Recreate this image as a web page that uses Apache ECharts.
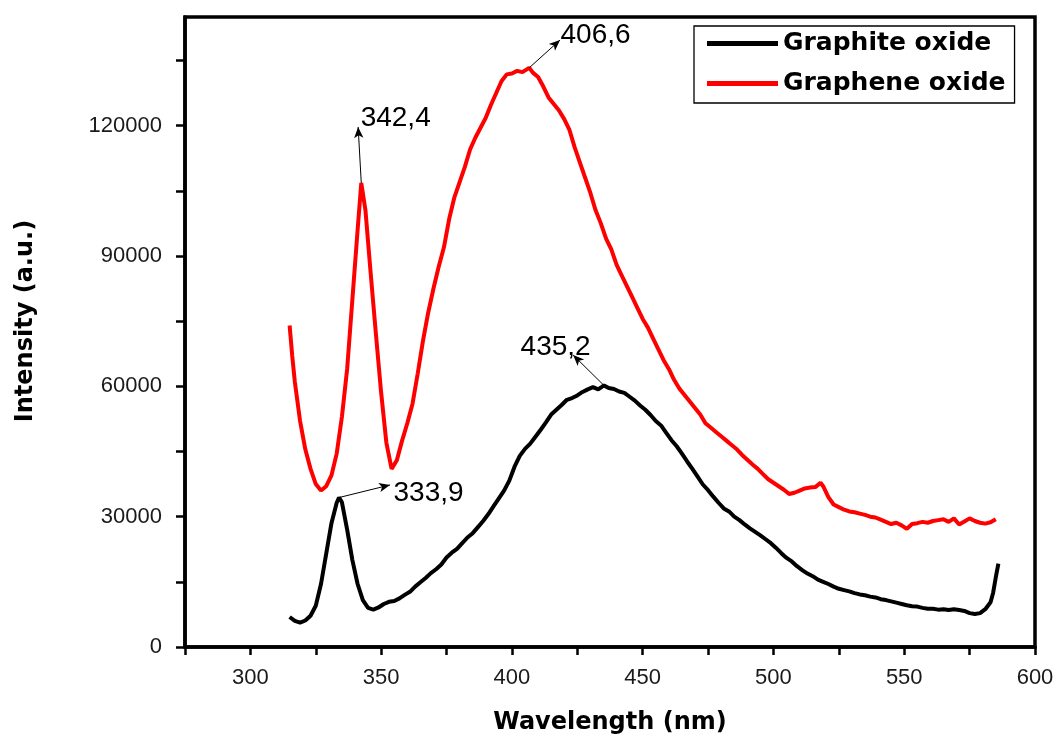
<!DOCTYPE html>
<html>
<head>
<meta charset="utf-8">
<title>Photoluminescence spectra</title>
<script src="https://cdn.jsdelivr.net/npm/echarts@6/dist/echarts.min.js"></script>
<style>
  html, body { margin: 0; padding: 0; background: #fff; }
  #chart { width: 1057px; height: 742px; }
</style>
</head>
<body>
<div id="chart"></div>
<script>
// ---- Spectrum data ----
const graphiteWl = [315,317,319,321,323,325,327,329,331,333,333.9,335,337,339,341,343,345,347,349,351,353,355,357,359,361,363,365,367,369,371,373,375,377,379,381,383,385,387,389,391,393,395,397,399,401,403,405,407,409,411,413,415,417,419,421,423,425,427,429,431,433,435.2,437,439,441,443,445,447,449,451,453,455,457,459,461,463,465,467,469,471,473,475,477,479,481,483,485,487,489,491,493,495,497,499,501,503,505,507,509,511,513,515,517,519,521,523,525,527,529,531,533,535,537,539,541,543,545,547,549,551,553,555,557,559,561,563,565,567,569,571,573,575,577,579,581,583,584,585,586];
const graphiteInt = [6900,6000,5600,6100,7200,9500,14500,21500,28500,33200,34400,33300,27000,20000,14500,10800,9000,8600,9100,9900,10400,10600,11200,12000,12700,13900,14900,15900,17000,17900,19000,20600,21700,22600,23900,25200,26200,27600,29000,30600,32400,34200,36000,38300,41500,44000,45600,46800,48400,50000,51700,53500,54600,55700,56900,57300,57900,58700,59300,59800,59300,60200,59600,59400,58800,58500,57600,56700,55600,54600,53400,52000,51000,49300,47600,46200,44500,42700,41000,39200,37400,36100,34600,33200,31900,31200,30000,29200,28200,27300,26500,25700,24800,23900,22800,21600,20500,19700,18600,17700,16900,16300,15500,15000,14500,13900,13400,13100,12800,12400,12100,11900,11600,11400,11000,10800,10500,10200,9900,9600,9400,9300,9000,8800,8800,8600,8700,8500,8700,8500,8300,7800,7600,7800,8700,10300,12500,16000,19200];

const grapheneWl = [315,316,317,319,321,323,325,327,329,331,333,335,337,339,341,342.4,344,346,348,350,352,354,356,358,360,362,364,366,368,370,372,374,376,378,380,382,384,386,388,390,392,394,396,398,400,402,404,406.6,408,410,412,414,416,418,420,422,424,426,428,430,432,434,436,438,440,442,444,446,448,450,452,454,456,458,460,462,464,466,468,470,472,474,476,478,480,482,484,486,488,490,492,494,496,498,500,502,504,506,508,510,512,514,516,518,519,521,523,525,527,529,531,533,535,537,539,541,543,545,547,549,551,553,555,557,559,561,563,565,567,569,571,573,575,577,579,581,583,585];
const grapheneInt = [74000,67000,61000,52000,45500,41000,37500,36000,37000,39500,44500,53000,64000,80000,96000,106800,100500,86000,72000,58500,47000,41000,43000,47500,51500,56000,63000,70500,77000,82500,87500,92000,98500,103500,107000,110500,114500,117200,119500,121800,124800,127500,130200,131800,132000,132600,132300,133300,132200,131200,129000,126500,125000,123500,121500,119000,115000,111500,108000,104500,100500,97500,94000,91500,88000,85500,83000,80500,78000,75500,73500,71000,68500,66000,64000,61500,59500,58000,56500,55000,53500,51500,50500,49500,48500,47500,46500,45500,44200,43100,42000,41000,39800,38600,37800,37000,36200,35200,35500,36000,36500,36700,36800,37800,37000,34500,32800,32200,31600,31200,31000,30700,30400,30000,29800,29300,28800,28300,28600,28000,27200,28300,28500,28800,28600,29000,29200,29400,28800,29600,28200,28900,29600,29000,28600,28400,28700,29400];

// ---- Axis ticks and labels ----
const xTickValues = [275,300,325,350,375,400,425,450,475,500,525,550,575,600];
const xLabelValues = [300,350,400,450,500,550,600];
const yTickValues = [0,15000,30000,45000,60000,75000,90000,105000,120000,135000];
const yLabelValues = [0,30000,60000,90000,120000];

// ---- Labelled peak wavelengths (nm) ----
const graphitePeaks = [333.9, 435.2];
const graphenePeaks = [342.4, 406.6];

// ---- Build chart ----
const toPairs = (wl, val) => wl.map((w, i) => [w, val[i]]);
const graphiteData = toPairs(graphiteWl, graphiteInt);
const grapheneData = toPairs(grapheneWl, grapheneInt);

// annotation layout: where each arrow points to (data units) and how the text sits next to it (px)
const annotLayout = {
  '333.9': { tip: [353.4, 37300],  offset: [3, 8] },
  '435.2': { tip: [423.4, 67200],  offset: [-53, -8] },
  '342.4': { tip: [341.2, 119700], offset: [2, -9] },
  '406.6': { tip: [418.4, 139700], offset: [0, -5] }
};

function peakValue(data, wl) {
  const p = data.find(d => d[0] === wl);
  return p ? p[1] : 0;
}
const fmtPeak = wl => String(wl).replace('.', ',');

function annotations(data, peaks) {
  return {
    markLine: {
      silent: true,
      animation: false,
      symbol: ['none', 'arrow'],
      symbolSize: [7, 11],
      lineStyle: { color: '#000', width: 1, type: 'solid' },
      label: { show: false },
      emphasis: { disabled: true },
      data: peaks.map(wl => [
        { coord: [wl, peakValue(data, wl)] },
        { coord: annotLayout[String(wl)].tip }
      ])
    },
    markPoint: {
      silent: true,
      animation: false,
      symbol: 'circle',
      symbolSize: 1,
      itemStyle: { color: 'rgba(0,0,0,0)' },
      data: peaks.map(wl => ({
        coord: annotLayout[String(wl)].tip,
        label: {
          show: true,
          position: 'right',
          distance: 0,
          offset: annotLayout[String(wl)].offset,
          formatter: fmtPeak(wl),
          color: '#000',
          fontSize: 28,
          fontFamily: 'Liberation Sans, Arial, sans-serif'
        }
      }))
    }
  };
}

const chart = echarts.init(document.getElementById('chart'), null, { renderer: 'canvas' });

const tickFont = { fontFamily: 'Liberation Sans, Arial, sans-serif', color: '#1a1a1a' };

chart.setOption({
  backgroundColor: '#fff',
  animation: false,
  grid: {
    left: 185, right: 22, top: 17, bottom: 95,
    show: true, borderColor: '#000', borderWidth: 3.5, backgroundColor: 'transparent'
  },
  legend: {
    data: ['Graphite oxide', 'Graphene oxide'],
    orient: 'vertical',
    left: 694, top: 26,
    padding: [5, 9, 7, 13],
    itemGap: 15,
    itemWidth: 71, itemHeight: 5,
    icon: 'rect',
    borderColor: '#000', borderWidth: 1.3,
    selectedMode: false,
    textStyle: { fontFamily: 'DejaVu Sans', fontWeight: 'bold', fontSize: 25, color: '#000' }
  },
  xAxis: {
    type: 'value',
    min: 275, max: 600, interval: 25,
    name: 'Wavelength (nm)',
    nameLocation: 'middle',
    nameGap: 64,
    nameTextStyle: { fontFamily: 'DejaVu Sans', fontWeight: 'bold', fontSize: 24, color: '#000' },
    axisLine: { show: true, lineStyle: { color: '#000', width: 3.5 } },
    axisTick: { show: true, inside: false, length: 8, customValues: xTickValues, lineStyle: { color: '#000', width: 2.5 } },
    axisLabel: Object.assign({ fontSize: 22, margin: 20, customValues: xLabelValues,
      formatter: v => (v % 50 === 0 ? String(v) : '') }, tickFont),
    splitLine: { show: false }
  },
  yAxis: {
    type: 'value',
    min: 0, max: 145000, interval: 15000,
    name: 'Intensity (a.u.)',
    nameLocation: 'middle',
    nameGap: 147,
    nameTextStyle: { fontFamily: 'DejaVu Sans', fontWeight: 'bold', fontSize: 24, color: '#000', padding: [0, 0, 0, 22] },
    axisLine: { show: true, lineStyle: { color: '#000', width: 3.5 } },
    axisTick: { show: true, inside: false, length: 9, customValues: yTickValues, lineStyle: { color: '#000', width: 2.5 } },
    axisLabel: Object.assign({ fontSize: 22, margin: 23, customValues: yLabelValues,
      formatter: v => (v % 30000 === 0 ? String(v) : '') }, tickFont),
    splitLine: { show: false }
  },
  series: [
    Object.assign({
      name: 'Graphite oxide',
      type: 'line',
      data: graphiteData,
      showSymbol: false,
      symbol: 'none',
      color: '#000',
      lineStyle: { color: '#000', width: 4 },
      emphasis: { disabled: true }
    }, annotations(graphiteData, graphitePeaks)),
    Object.assign({
      name: 'Graphene oxide',
      type: 'line',
      data: grapheneData,
      showSymbol: false,
      symbol: 'none',
      color: '#ff0000',
      lineStyle: { color: '#ff0000', width: 4 },
      emphasis: { disabled: true }
    }, annotations(grapheneData, graphenePeaks))
  ]
});
</script>
</body>
</html>
